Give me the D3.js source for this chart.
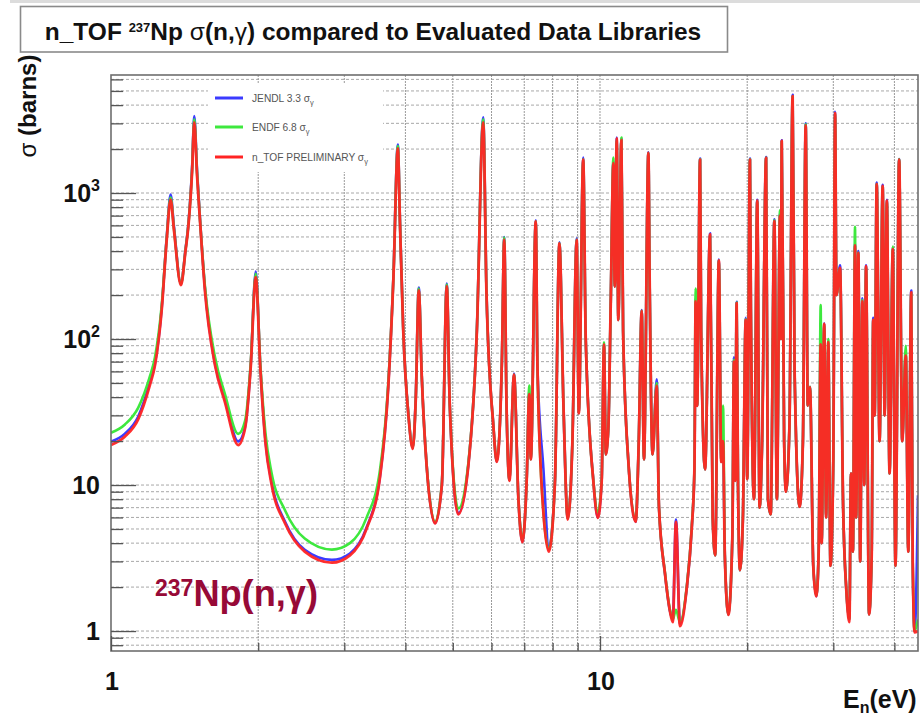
<!DOCTYPE html>
<html>
<head>
<meta charset="utf-8">
<script src="https://cdn.jsdelivr.net/npm/d3@7"></script>
<style>
  html, body { margin: 0; padding: 0; background: #ffffff; }
  svg { display: block; font-family: "Liberation Sans", Arial, Helvetica, sans-serif; }
</style>
</head>
<body>
<svg id="chart" width="920" height="715"></svg>
<script>
// Neutron energies (eV) shared by all three capture cross-section curves
const energies = [
  1.00, 1.068, 1.137, 1.20, 1.23, 1.27, 1.30, 1.324, 1.345, 1.39,
  1.42, 1.44, 1.465, 1.48, 1.50, 1.52, 1.556, 1.632, 1.71, 1.82,
  1.88, 1.93, 1.977, 2.02, 2.07, 2.13, 2.27, 2.49, 2.83, 3.08,
  3.33, 3.55, 3.69, 3.78, 3.86, 3.90, 3.96, 4.06, 4.14, 4.20,
  4.26, 4.32, 4.42, 4.60, 4.75, 4.86, 4.93, 5.13, 5.38, 5.60,
  5.77, 5.86, 6.05, 6.15, 6.30, 6.37, 6.44, 6.53, 6.67, 6.81,
  6.94, 7.08, 7.17, 7.22, 7.39, 7.45, 7.66, 7.86, 8.09, 8.26,
  8.42, 8.59, 8.78, 8.96, 9.05, 9.24, 9.35, 9.69, 9.90, 10.08,
  10.19, 10.28, 10.40, 10.52, 10.65, 10.72, 10.82, 10.90, 11.06, 11.15,
  11.43, 11.83, 12.00, 12.17, 12.30, 12.56, 12.63, 12.81, 13.06, 13.20,
  13.58, 13.90, 14.09, 14.30, 14.57, 15.04, 15.40, 15.60, 15.69, 15.80,
  16.02, 16.10, 16.40, 16.79, 17.00, 17.20, 17.50, 17.70, 17.85, 18.00,
  18.30, 18.65, 18.79, 18.90, 19.03, 19.15, 19.33, 19.60, 19.86, 20.00,
  20.26, 20.35, 20.65, 20.97, 21.20, 21.45, 21.86, 22.05, 22.34, 22.73,
  23.00, 23.34, 23.44, 23.53, 23.80, 24.00, 24.40, 24.77, 25.00, 25.60,
  26.00, 26.34, 26.60, 26.88, 27.30, 27.70, 28.00, 28.27, 28.40, 28.74,
  29.00, 29.30, 29.60, 30.00, 30.25, 30.45, 30.97, 31.40, 31.90, 32.36,
  32.60, 32.90, 33.23, 33.40, 33.76, 34.05, 34.40, 34.70, 35.00, 35.50,
  35.94, 36.20, 36.45, 36.80, 37.30, 37.85, 38.20, 38.60, 39.10, 39.70,
  40.20, 40.90, 41.50, 42.20, 42.70, 43.30, 43.60, 44.00, 44.70
];

// JENDL 3.3 evaluated sigma(n,gamma), barns
const jendl = [
  19.8, 22.5, 29.5, 50, 68, 165, 500, 975, 590, 240,
  410, 620, 1500, 3370, 1400, 680, 225, 68, 38.5, 19.9,
  25, 65, 290, 65, 20, 10.5, 5.6, 3.6, 3.07, 3.4,
  5.1, 11.6, 48, 265, 2150, 620, 115, 29.5, 18, 40,
  225, 56, 13.8, 5.5, 10.2, 240, 35, 6.4, 13.8, 115,
  3300, 208, 26, 14.5, 70, 500, 35, 10.8, 58, 8.1,
  4.1, 10.8, 44, 15, 650, 63, 13, 3.72, 10.8, 460,
  35, 5.9, 19.5, 490, 31, 1750, 100, 10.8, 6.0, 10.8,
  92, 16.2, 24.5, 181, 1650, 229, 2400, 135, 2350, 113,
  14.4, 5.6, 19.3, 158, 15, 1900, 273, 16.2, 53, 7.1,
  2.47, 1.37, 1.2, 5.8, 1.12, 1.95, 5.0, 12.8, 190, 35,
  1720, 113, 12.8, 530, 6, 3.3, 350, 14.4, 20, 3.3,
  1.3, 4.4, 75, 10.7, 180, 10.7, 2.61, 6, 140, 11,
  1720, 160, 8, 900, 7, 19, 1760, 8, 6.3, 660,
  8, 720, 100, 2300, 20, 9, 25, 4700, 60, 7.1,
  20, 3000, 35, 47, 2.77, 1.73, 3.5, 95, 4, 128,
  6, 90, 2.8, 15, 3600, 200, 320, 8, 1.9, 1.2,
  12, 3.5, 450, 6, 400, 3, 190, 10, 320, 1.3,
  3.3, 140, 30, 1180, 20, 1140, 30, 900, 12, 420,
  2.8, 1710, 20, 80, 3.5, 215, 3, 1.0, 8.5
];

// ENDF 6.8 evaluated sigma(n,gamma), barns
const endf = [
  22.8, 26, 33.9, 55, 75, 172, 490, 930, 570, 238,
  405, 610, 1450, 3200, 1350, 670, 232, 75, 42, 22.4,
  27.5, 67, 280, 67, 22.5, 12.1, 6.7, 4.3, 3.61, 4.0,
  5.96, 12.8, 50, 262, 2100, 610, 114, 29.5, 18, 39,
  222, 56, 13.8, 5.6, 10.4, 236, 35, 6.9, 14.2, 115,
  3200, 206, 26, 14.6, 70, 495, 35, 10.8, 57, 8.1,
  4.2, 10.8, 48, 15, 640, 63, 6.6, 3.6, 10.8, 455,
  35, 5.9, 19.5, 480, 31, 1700, 100, 10.8, 6.5, 10.8,
  95, 16.2, 24.5, 181, 1750, 229, 2300, 135, 2400, 113,
  14.4, 5.7, 19.3, 156, 15, 1880, 273, 16.2, 50, 7.1,
  2.5, 1.4, 1.2, 1.4, 1.15, 2.0, 5.1, 13, 222, 35,
  1700, 113, 12.8, 510, 6, 3.3, 345, 14.4, 35, 3.3,
  1.3, 4.4, 72, 10.7, 178, 10.7, 2.61, 6, 137, 11,
  1700, 160, 8, 880, 7, 19, 1740, 8, 6.3, 650,
  8, 760, 100, 2250, 20, 9, 25, 4600, 60, 7.1,
  20, 2950, 35, 47, 2.77, 1.75, 3.5, 171, 4, 125,
  6, 100, 2.8, 15, 3500, 200, 305, 8, 1.9, 1.2,
  12, 3.5, 587, 6, 390, 3, 185, 10, 310, 1.3,
  3.3, 135, 30, 1150, 20, 1100, 30, 870, 12, 430,
  2.8, 1700, 20, 90, 3.5, 205, 3, 1.0, 1.2
];

// n_TOF preliminary sigma(n,gamma), barns
const ntof = [
  18.8, 21.5, 28.3, 48, 66, 160, 480, 900, 560, 234,
  400, 600, 1400, 3050, 1300, 660, 216, 66, 37, 18.8,
  24.5, 63, 265, 63, 19.3, 10.1, 5.45, 3.5, 2.94, 3.3,
  5.0, 11.4, 47, 258, 2020, 600, 113, 29.2, 17.7, 39,
  215, 55.7, 13.6, 5.46, 10.1, 230, 34.8, 6.3, 13.6, 113,
  3050, 204, 25.9, 14.4, 70, 480, 34.8, 10.7, 57, 8.0,
  4.06, 10.7, 42, 15, 640, 63, 6.5, 3.5, 10.7, 451,
  34.8, 5.8, 19.3, 478, 31, 1690, 100, 10.7, 5.96, 10.7,
  92, 16.2, 24.5, 181, 1600, 229, 2365, 135, 2300, 113,
  14.4, 5.6, 19.3, 156, 15, 1880, 273, 16.2, 48, 7.1,
  2.47, 1.37, 1.15, 5.6, 1.08, 1.95, 5.0, 12.8, 181, 34.8,
  1690, 113, 12.8, 520, 6, 3.3, 346, 14.4, 20, 3.3,
  1.29, 4.4, 70, 10.7, 176, 10.7, 2.61, 6, 135, 11,
  1690, 160, 8, 885, 7, 19, 1740, 8, 6.3, 641,
  8, 700, 100, 2270, 20, 9, 25, 4600, 60, 7.1,
  20, 2900, 35, 46.8, 2.77, 1.73, 3.5, 92, 4, 127,
  6, 95, 2.8, 15, 3530, 200, 307, 8, 1.9, 1.15,
  12, 3.5, 437, 6, 389, 3, 181, 10, 316, 1.3,
  3.3, 135, 30, 1150, 20, 1120, 30, 885, 12, 412,
  2.8, 1690, 20, 77, 3.5, 209, 3, 0.98, 1.0
];

const seriesLabels = ["JENDL 3.3", "ENDF 6.8", "n_TOF PRELIMINARY"];
const seriesColors = ["#3b3bff", "#3ee83e", "#ff2424"];
const xTickValues = [1, 10];
const yTickValues = [1, 10, 100, 1000];
const yTickExponents = [null, null, 2, 3];

const W = 920, H = 715;
const plot = { left: 111, right: 918, top: 75, bottom: 651 };

const svg = d3.select("#chart");

const x = d3.scaleLog().domain([1, 44.7]).range([plot.left, plot.right]);
const y = d3.scaleLog().domain([0.73, 6430]).range([plot.bottom, plot.top]);

// faint strip along the top edge of the canvas
svg.append("rect").attr("x", 10).attr("y", 0).attr("width", W - 10).attr("height", 3)
  .attr("fill", "#dcdcdc");

// ---- title box ----
svg.append("rect")
  .attr("x", 20.5).attr("y", 6.5).attr("width", 707).attr("height", 45.5)
  .attr("fill", "#ffffff").attr("stroke", "#8a8a8a").attr("stroke-width", 1.6);

const title = svg.append("text")
  .attr("x", 373).attr("y", 40)
  .attr("text-anchor", "middle")
  .attr("font-weight", "bold").attr("font-size", 21).attr("fill", "#111");
title.append("tspan").text("n_TOF ");
title.append("tspan").attr("font-size", 13).attr("dy", -8).text("237");
title.append("tspan").attr("dy", 8).text("Np ");
title.append("tspan").attr("font-weight", "normal").text("σ");
title.append("tspan").text("(n,");
title.append("tspan").attr("font-weight", "normal").text("γ");
title.append("tspan").text(") compared to Evaluated Data Libraries");
{
  const w = title.node().getComputedTextLength();
  title.attr("font-size", 21 * 660 / w);
}

// ---- grid ----
const yGrid = [];
[-1, 0, 1, 2, 3].forEach(k => {
  for (let m = 1; m <= 9; m++) {
    const v = m * Math.pow(10, k);
    if (v >= 0.73 && v <= 6430) yGrid.push(+v.toPrecision(3));
  }
});
const xGrid = [];
[0, 1].forEach(k => {
  for (let m = 1; m <= 9; m++) {
    const v = m * Math.pow(10, k);
    if (v > 1 && v < 44.7) xGrid.push(v);
  }
});

const grid = svg.append("g");
grid.selectAll("line.hg").data(yGrid).join("line")
  .attr("class", "hg")
  .attr("x1", plot.left).attr("x2", plot.right)
  .attr("y1", d => y(d)).attr("y2", d => y(d))
  .attr("stroke", "#a8a8a8").attr("stroke-width", 1)
  .attr("stroke-dasharray", "3,2");
grid.selectAll("line.vg").data(xGrid).join("line")
  .attr("class", "vg")
  .attr("x1", d => x(d)).attr("x2", d => x(d))
  .attr("y1", plot.top).attr("y2", plot.bottom)
  .attr("stroke", "#9a9a9a").attr("stroke-width", 1)
  .attr("stroke-dasharray", "2,1");

// legend background clears the grid behind it
svg.append("rect").attr("x", 208).attr("y", 83).attr("width", 175).attr("height", 89)
  .attr("fill", "#ffffff");

// ---- curves ----
svg.append("clipPath").attr("id", "plotClip")
  .append("rect").attr("x", plot.left).attr("y", plot.top)
  .attr("width", plot.right - plot.left).attr("height", plot.bottom - plot.top);

const line = d3.line()
  .x(d => x(d[0]))
  .y(d => y(d[1]))
  .curve(d3.curveMonotoneX);

const seriesValues = [jendl, endf, ntof];
const curves = svg.append("g").attr("clip-path", "url(#plotClip)");
seriesValues.forEach((vals, i) => {
  const pts = energies.map((e, j) => [e, vals[j]]);
  curves.append("path")
    .datum(pts)
    .attr("d", line)
    .attr("fill", "none")
    .attr("stroke", seriesColors[i])
    .attr("stroke-width", i === 2 ? 2.8 : 2.6)
    .attr("stroke-linejoin", "round")
    .attr("opacity", i === 2 ? 0.95 : 1);
});

// ---- frame ----
svg.append("rect")
  .attr("x", plot.left).attr("y", plot.top)
  .attr("width", plot.right - plot.left).attr("height", plot.bottom - plot.top)
  .attr("fill", "none").attr("stroke", "#6e6e6e").attr("stroke-width", 1.6);

// ---- axes ----
const yMinor = yGrid.filter(v => !yTickValues.includes(v));
const xMinor = xGrid.filter(v => !xTickValues.includes(v));

function styleAxis(g) {
  g.select(".domain").remove();
  g.selectAll(".tick line").attr("stroke", "#555").attr("stroke-width", 1.3);
  g.selectAll(".tick text").remove();
}

svg.append("g").attr("transform", `translate(${plot.left},0)`)
  .call(d3.axisLeft(y).tickValues(yMinor).tickSize(-12).tickFormat(""))
  .call(styleAxis);
svg.append("g").attr("transform", `translate(${plot.left},0)`)
  .call(d3.axisLeft(y).tickValues(yTickValues).tickSize(-25).tickFormat(""))
  .call(styleAxis);
svg.append("g").attr("transform", `translate(0,${plot.bottom})`)
  .call(d3.axisBottom(x).tickValues(xMinor).tickSize(-8).tickFormat(""))
  .call(styleAxis);
svg.append("g").attr("transform", `translate(0,${plot.bottom})`)
  .call(d3.axisBottom(x).tickValues(xTickValues).tickSize(-15).tickFormat(""))
  .call(styleAxis);

// y tick labels (powers of ten)
yTickValues.forEach((v, i) => {
  const t = svg.append("text")
    .attr("x", 100).attr("y", y(v) + 9)
    .attr("text-anchor", "end")
    .attr("font-weight", "bold").attr("font-size", 25).attr("fill", "#111");
  if (yTickExponents[i] === null) {
    t.text(String(v));
  } else {
    t.append("tspan").text("10");
    t.append("tspan").attr("font-size", 16).attr("dy", -11).text(String(yTickExponents[i]));
  }
});

// x tick labels
xTickValues.forEach(v => {
  svg.append("text")
    .attr("x", x(v) + 1).attr("y", 690)
    .attr("text-anchor", "middle")
    .attr("font-weight", "bold").attr("font-size", 25).attr("fill", "#111")
    .text(String(v));
});

// axis titles
const xt = svg.append("text")
  .attr("x", 843).attr("y", 708)
  .attr("font-weight", "bold").attr("font-size", 25).attr("fill", "#111");
xt.append("tspan").text("E");
xt.append("tspan").attr("font-size", 16).attr("dy", 5).text("n");
xt.append("tspan").attr("dy", -5).text("(eV)");

const yt = svg.append("text")
  .attr("transform", "translate(36,106) rotate(-90)")
  .attr("text-anchor", "middle")
  .attr("font-weight", "bold").attr("font-size", 24).attr("fill", "#111");
yt.append("tspan").attr("font-weight", "normal").text("σ");
yt.append("tspan").text(" (barns)");

// ---- legend ----
const legendY = [98, 127, 157];
seriesLabels.forEach((name, i) => {
  svg.append("line")
    .attr("x1", 215).attr("x2", 243)
    .attr("y1", legendY[i]).attr("y2", legendY[i])
    .attr("stroke", seriesColors[i]).attr("stroke-width", 3);
  const t = svg.append("text")
    .attr("x", 252).attr("y", legendY[i] + 3.5)
    .attr("font-size", 10.2).attr("fill", "#555");
  t.append("tspan").text(name + " σ");
  t.append("tspan").attr("font-size", 7.5).attr("dy", 3).text("γ");
});

// ---- reaction label ----
const rl = svg.append("text")
  .attr("x", 155).attr("y", 606)
  .attr("font-weight", "bold").attr("fill", "#970a37");
rl.append("tspan").attr("font-size", 23).attr("dy", -10).text("237");
const rlMain = rl.append("tspan").attr("font-size", 33).attr("dy", 10).text("Np(n,γ)");
{
  // stretch the main part so the whole label spans x = 155..318
  const w = rl.node().getComputedTextLength();
  const mainW = rlMain.node().getComputedTextLength();
  const target = 163 - (w - mainW);
  rlMain.attr("font-size", 33 * target / mainW);
}
</script>
</body>
</html>
